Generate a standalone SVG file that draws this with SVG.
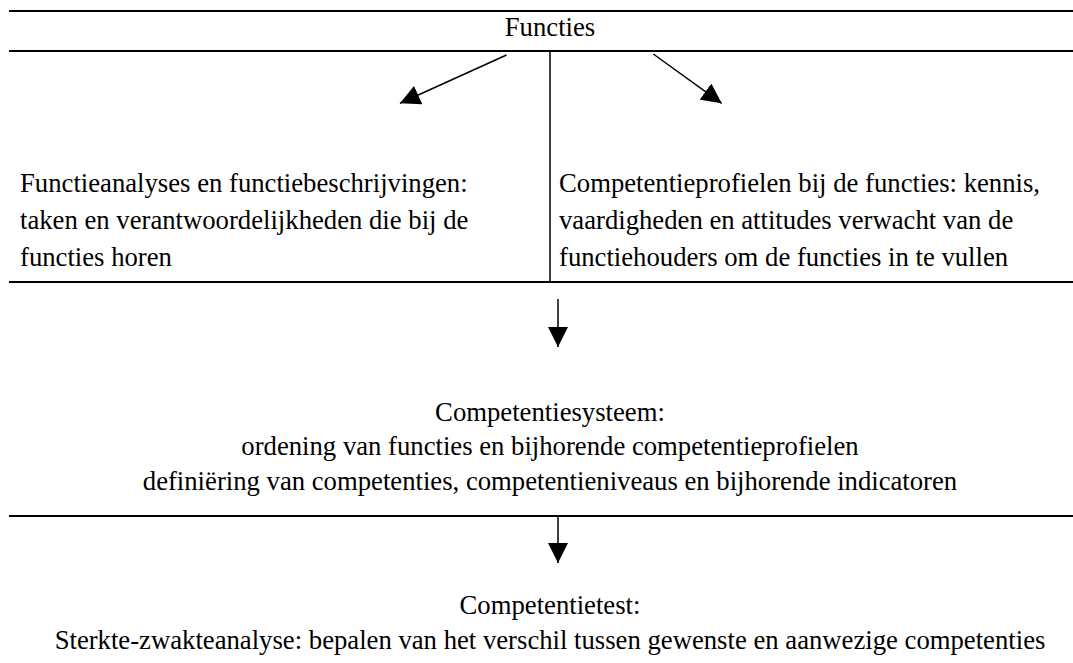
<svg xmlns="http://www.w3.org/2000/svg" width="1073" height="663" viewBox="0 0 1073 663">
  <style>
    .rule { stroke: #000; stroke-width: 2.2; }
    .divider { stroke: #000; stroke-width: 1.5; }
    .conn { stroke: #000; stroke-width: 1.5; fill: none; marker-end: url(#head); }
    .mid { text-anchor: middle; }
  </style>
  <defs>
    <marker id="head" markerUnits="userSpaceOnUse" markerWidth="20" markerHeight="20" refX="20" refY="10" orient="auto" viewBox="0 0 20 20">
      <path d="M0,0 L20,10 L0,20 z" fill="#000"/>
    </marker>
  </defs>
  <rect width="1073" height="663" fill="#fff"/>

  <!-- table rules -->
  <g id="rules">
    <line class="rule" x1="9" y1="11" x2="1073" y2="11"/>
    <line class="rule" x1="9" y1="51" x2="1073" y2="51"/>
    <line class="divider" x1="550" y1="51" x2="550" y2="282"/>
    <line class="rule" x1="9" y1="282" x2="1073" y2="282"/>
    <line class="rule" x1="9" y1="516" x2="1073" y2="516"/>
  </g>

  <g font-family="Liberation Serif, Tinos, Times New Roman, DejaVu Serif, serif" font-size="26.7" fill="#000">
    <g id="functies">
      <text class="mid" x="550" y="36">Functies</text>
    </g>

    <g id="functieanalyses">
      <text x="20" y="192">Functieanalyses en functiebeschrijvingen:</text>
      <text x="20" y="229">taken en verantwoordelijkheden die bij de</text>
      <text x="20" y="266">functies horen</text>
    </g>

    <g id="competentieprofielen">
      <text x="559" y="192">Competentieprofielen bij de functies: kennis,</text>
      <text x="559" y="229">vaardigheden en attitudes verwacht van de</text>
      <text x="559" y="266">functiehouders om de functies in te vullen</text>
    </g>

    <g id="competentiesysteem">
      <text class="mid" x="550" y="421">Competentiesysteem:</text>
      <text class="mid" x="550" y="455">ordening van functies en bijhorende competentieprofielen</text>
      <text class="mid" x="550" y="490">definiëring van competenties, competentieniveaus en bijhorende indicatoren</text>
    </g>

    <g id="competentietest">
      <text class="mid" x="550" y="614">Competentietest:</text>
      <text class="mid" x="550" y="649">Sterkte-zwakteanalyse: bepalen van het verschil tussen gewenste en aanwezige competenties</text>
    </g>
  </g>

  <!-- connectors -->
  <g id="connectors">
    <line class="conn" x1="506.5" y1="55" x2="400" y2="103.3"/>
    <line class="conn" x1="653.3" y1="54" x2="721.7" y2="103.3"/>
    <line class="conn" x1="558" y1="299" x2="558" y2="347"/>
    <line class="conn" x1="558" y1="517" x2="558" y2="563"/>
  </g>
</svg>
